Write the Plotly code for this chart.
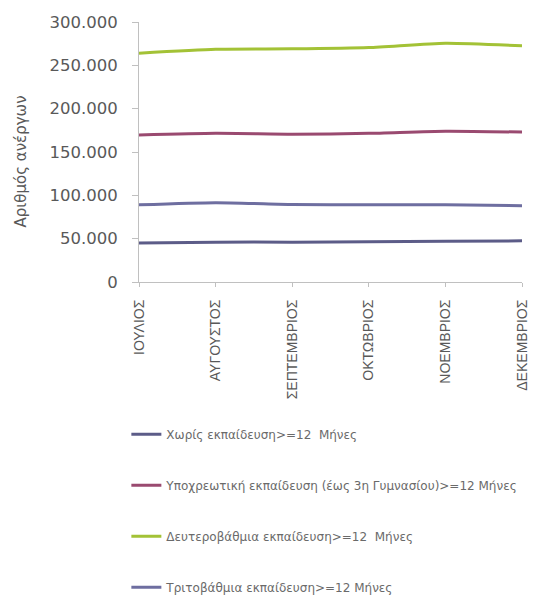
import plotly.graph_objects as go

months = ["ΙΟΥΛΙΟΣ", "ΑΥΓΟΥΣΤΟΣ", "ΣΕΠΤΕΜΒΡΙΟΣ", "ΟΚΤΩΒΡΙΟΣ", "ΝΟΕΜΒΡΙΟΣ", "ΔΕΚΕΜΒΡΙΟΣ"]

no_education = [45000, 46000, 46000, 46500, 47000, 47500]
compulsory = [169500, 171500, 170500, 171500, 174000, 173000]
secondary = [264000, 268500, 269000, 270500, 275500, 272500]
tertiary = [89000, 91500, 89500, 89000, 89000, 88000]

series_names = [
    "Χωρίς εκπαίδευση>=12  Μήνες",
    "Υποχρεωτική εκπαίδευση (έως 3η Γυμνασίου)>=12 Μήνες",
    "Δευτεροβάθμια εκπαίδευση>=12  Μήνες",
    "Τριτοβάθμια εκπαίδευση>=12 Μήνες",
]
series_values = [no_education, compulsory, secondary, tertiary]
series_colors = ["#5c5c88", "#9a4a70", "#a3c236", "#6e6ea0"]

y_title = "Αριθμός ανέργων"

fig = go.Figure()
for i, (name, vals, col) in enumerate(zip(series_names, series_values, series_colors)):
    fig.add_trace(go.Scatter(
        x=months, y=vals, name=name, mode="lines",
        line=dict(color=col, width=3, shape="spline", smoothing=0.6),
        legendgroup=f"g{i}",
    ))

fig.update_layout(
    width=536, height=587,
    margin=dict(l=131, r=22, t=14, b=313, autoexpand=False),
    paper_bgcolor="white", plot_bgcolor="white",
    separators=",.",
    font=dict(family="DejaVu Sans, sans-serif", color="#595959"),
    showlegend=True,
    legend=dict(
        x=-0.033, xanchor="left", y=-0.53, yanchor="top",
        font=dict(size=12, color="#6a6a6a", family="DejaVu Sans, sans-serif"),
        tracegroupgap=32, itemwidth=30,
        bgcolor="rgba(0,0,0,0)",
    ),
    xaxis=dict(
        type="category", range=[0, 5],
        showgrid=False, showline=True, linecolor="#c0c0c0", linewidth=1,
        ticks="outside", ticklen=4, tickcolor="#c0c0c0",
        tickangle=-90, ticklabelstandoff=7,
        tickfont=dict(size=14, color="#595959", family="Liberation Sans, Arial, sans-serif"),
    ),
    yaxis=dict(
        range=[0, 300000], dtick=50000, tickformat=",d",
        showgrid=False, showline=True, linecolor="#c0c0c0", linewidth=1,
        ticks="outside", ticklen=6, tickcolor="#c0c0c0",
        ticklabelstandoff=11,
        tickfont=dict(size=16.5, color="#595959", family="DejaVu Sans, sans-serif"),
    ),
    annotations=[dict(
        text=y_title, textangle=-90, showarrow=False,
        xref="paper", yref="paper", x=-0.307, y=0.465,
        xanchor="center", yanchor="middle",
        font=dict(size=15, color="#595959", family="DejaVu Sans, sans-serif"),
    )],
)

fig.write_html("out.html")
